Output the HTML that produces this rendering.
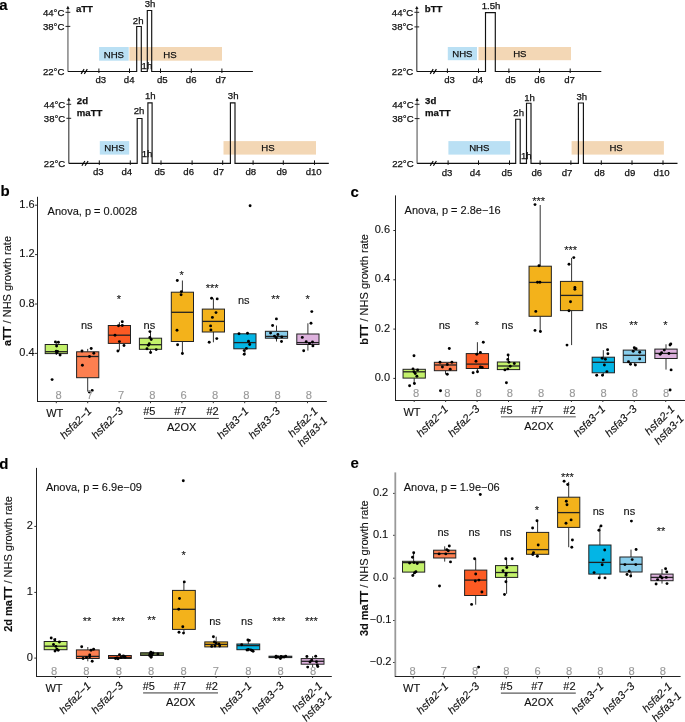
<!DOCTYPE html>
<html><head><meta charset="utf-8"><style>
html,body{margin:0;padding:0;background:#fff;}
svg{display:block;will-change:transform;font-family:"Liberation Sans", sans-serif;}

</style></head><body>
<svg width="685" height="722" viewBox="0 0 685 722">
<rect width="685" height="722" fill="#fff"/>
<rect x="99.10" y="47.00" width="29.60" height="13.70" fill="#BAE0F4" stroke="none" stroke-width="1"/>
<text x="113.90" y="57.80" font-size="9.6" text-anchor="middle" fill="#111" stroke="#111" stroke-width="0.25" >NHS</text>
<rect x="129.40" y="47.00" width="92.60" height="13.70" fill="#F3D7B5" stroke="none" stroke-width="1"/>
<text x="170.00" y="57.80" font-size="9.6" text-anchor="middle" fill="#111" stroke="#111" stroke-width="0.25" >HS</text>
<line x1="67.90" y1="71.50" x2="67.90" y2="8.30" stroke="#999" stroke-width="1.8"/>
<path d="M66.20,8.90 L67.90,5.80 L69.60,8.90 Z" fill="#111"/>
<line x1="65.50" y1="12.30" x2="70.30" y2="12.30" stroke="#222" stroke-width="1"/>
<line x1="65.50" y1="26.40" x2="70.30" y2="26.40" stroke="#222" stroke-width="1"/>
<text x="64.40" y="15.70" font-size="9.6" text-anchor="end" fill="#111" stroke="#111" stroke-width="0.25" >44°C</text>
<text x="64.40" y="29.80" font-size="9.6" text-anchor="end" fill="#111" stroke="#111" stroke-width="0.25" >38°C</text>
<text x="64.40" y="74.90" font-size="9.6" text-anchor="end" fill="#111" stroke="#111" stroke-width="0.25" >22°C</text>
<text x="75.90" y="11.80" font-size="9.6" text-anchor="start" font-weight="bold" fill="#111" stroke="#111" stroke-width="0.25" >aTT</text>
<path d="M67.90,71.50 L136.70,71.50 L136.70,26.50 L141.30,26.50 L141.30,71.50 L147.30,71.50 L147.30,10.50 L151.70,10.50 L151.70,71.50 L252.90,71.50" fill="none" stroke="#111" stroke-width="1.15"/>
<line x1="81.10" y1="73.90" x2="84.10" y2="69.10" stroke="#000" stroke-width="1.1"/>
<line x1="84.30" y1="73.90" x2="87.30" y2="69.10" stroke="#000" stroke-width="1.1"/>
<line x1="98.90" y1="68.50" x2="98.90" y2="73.00" stroke="#111" stroke-width="1.0"/>
<text x="100.80" y="82.70" font-size="9.6" text-anchor="middle" fill="#111" stroke="#111" stroke-width="0.25" >d3</text>
<line x1="129.50" y1="68.50" x2="129.50" y2="73.00" stroke="#111" stroke-width="1.0"/>
<text x="129.20" y="82.70" font-size="9.6" text-anchor="middle" fill="#111" stroke="#111" stroke-width="0.25" >d4</text>
<line x1="160.50" y1="68.50" x2="160.50" y2="73.00" stroke="#111" stroke-width="1.0"/>
<text x="162.30" y="82.70" font-size="9.6" text-anchor="middle" fill="#111" stroke="#111" stroke-width="0.25" >d5</text>
<line x1="191.30" y1="68.50" x2="191.30" y2="73.00" stroke="#111" stroke-width="1.0"/>
<text x="191.20" y="82.70" font-size="9.6" text-anchor="middle" fill="#111" stroke="#111" stroke-width="0.25" >d6</text>
<line x1="221.90" y1="68.50" x2="221.90" y2="73.00" stroke="#111" stroke-width="1.0"/>
<text x="220.80" y="82.70" font-size="9.6" text-anchor="middle" fill="#111" stroke="#111" stroke-width="0.25" >d7</text>
<text x="138.20" y="23.80" font-size="9.6" text-anchor="middle" fill="#111" stroke="#111" stroke-width="0.25" >2h</text>
<text x="150.00" y="6.90" font-size="9.6" text-anchor="middle" fill="#111" stroke="#111" stroke-width="0.25" >3h</text>
<text x="146.90" y="68.80" font-size="9.6" text-anchor="middle" fill="#111" stroke="#111" stroke-width="0.25" >1h</text>
<rect x="447.80" y="47.00" width="29.20" height="13.20" fill="#BAE0F4" stroke="none" stroke-width="1"/>
<text x="462.40" y="56.50" font-size="9.6" text-anchor="middle" fill="#111" stroke="#111" stroke-width="0.25" >NHS</text>
<rect x="478.50" y="47.00" width="92.50" height="13.20" fill="#F3D7B5" stroke="none" stroke-width="1"/>
<text x="519.80" y="56.50" font-size="9.6" text-anchor="middle" fill="#111" stroke="#111" stroke-width="0.25" >HS</text>
<line x1="416.80" y1="71.50" x2="416.80" y2="8.50" stroke="#444" stroke-width="1.2"/>
<path d="M415.10,9.10 L416.80,6.00 L418.50,9.10 Z" fill="#111"/>
<line x1="414.40" y1="12.30" x2="419.20" y2="12.30" stroke="#222" stroke-width="1"/>
<line x1="414.40" y1="26.90" x2="419.20" y2="26.90" stroke="#222" stroke-width="1"/>
<text x="413.30" y="15.70" font-size="9.6" text-anchor="end" fill="#111" stroke="#111" stroke-width="0.25" >44°C</text>
<text x="413.30" y="30.30" font-size="9.6" text-anchor="end" fill="#111" stroke="#111" stroke-width="0.25" >38°C</text>
<text x="413.30" y="74.90" font-size="9.6" text-anchor="end" fill="#111" stroke="#111" stroke-width="0.25" >22°C</text>
<text x="424.80" y="12.00" font-size="9.6" text-anchor="start" font-weight="bold" fill="#111" stroke="#111" stroke-width="0.25" >bTT</text>
<path d="M416.80,71.50 L485.50,71.50 L485.50,12.60 L495.30,12.60 L495.30,71.50 L601.30,71.50" fill="none" stroke="#111" stroke-width="1.15"/>
<line x1="430.20" y1="73.90" x2="433.20" y2="69.10" stroke="#000" stroke-width="1.1"/>
<line x1="433.40" y1="73.90" x2="436.40" y2="69.10" stroke="#000" stroke-width="1.1"/>
<line x1="447.40" y1="68.50" x2="447.40" y2="73.00" stroke="#111" stroke-width="1.0"/>
<text x="449.60" y="82.70" font-size="9.6" text-anchor="middle" fill="#111" stroke="#111" stroke-width="0.25" >d3</text>
<line x1="478.50" y1="68.50" x2="478.50" y2="73.00" stroke="#111" stroke-width="1.0"/>
<text x="477.80" y="82.70" font-size="9.6" text-anchor="middle" fill="#111" stroke="#111" stroke-width="0.25" >d4</text>
<line x1="508.90" y1="68.50" x2="508.90" y2="73.00" stroke="#111" stroke-width="1.0"/>
<text x="510.60" y="82.70" font-size="9.6" text-anchor="middle" fill="#111" stroke="#111" stroke-width="0.25" >d5</text>
<line x1="539.60" y1="68.50" x2="539.60" y2="73.00" stroke="#111" stroke-width="1.0"/>
<text x="539.70" y="82.70" font-size="9.6" text-anchor="middle" fill="#111" stroke="#111" stroke-width="0.25" >d6</text>
<line x1="570.20" y1="68.50" x2="570.20" y2="73.00" stroke="#111" stroke-width="1.0"/>
<text x="569.60" y="82.70" font-size="9.6" text-anchor="middle" fill="#111" stroke="#111" stroke-width="0.25" >d7</text>
<text x="491.00" y="8.80" font-size="9.6" text-anchor="middle" fill="#111" stroke="#111" stroke-width="0.25" >1.5h</text>
<rect x="99.80" y="141.10" width="29.40" height="13.50" fill="#BAE0F4" stroke="none" stroke-width="1"/>
<text x="114.50" y="150.70" font-size="9.6" text-anchor="middle" fill="#111" stroke="#111" stroke-width="0.25" >NHS</text>
<rect x="223.50" y="141.10" width="92.50" height="13.50" fill="#F3D7B5" stroke="none" stroke-width="1"/>
<text x="267.90" y="150.70" font-size="9.6" text-anchor="middle" fill="#111" stroke="#111" stroke-width="0.25" >HS</text>
<line x1="68.80" y1="163.40" x2="68.80" y2="100.10" stroke="#444" stroke-width="1.2"/>
<path d="M67.10,100.70 L68.80,97.60 L70.50,100.70 Z" fill="#111"/>
<line x1="66.40" y1="104.30" x2="71.20" y2="104.30" stroke="#222" stroke-width="1"/>
<line x1="66.40" y1="118.30" x2="71.20" y2="118.30" stroke="#222" stroke-width="1"/>
<text x="65.30" y="107.70" font-size="9.6" text-anchor="end" fill="#111" stroke="#111" stroke-width="0.25" >44°C</text>
<text x="65.30" y="121.70" font-size="9.6" text-anchor="end" fill="#111" stroke="#111" stroke-width="0.25" >38°C</text>
<text x="65.30" y="166.80" font-size="9.6" text-anchor="end" fill="#111" stroke="#111" stroke-width="0.25" >22°C</text>
<text x="76.80" y="103.60" font-size="9.6" text-anchor="start" font-weight="bold" fill="#111" stroke="#111" stroke-width="0.25" >2d</text>
<text x="76.80" y="115.80" font-size="9.6" text-anchor="start" font-weight="bold" fill="#111" stroke="#111" stroke-width="0.25" >maTT</text>
<path d="M68.80,163.40 L137.20,163.40 L137.20,118.50 L142.00,118.50 L142.00,163.40 L147.90,163.40 L147.90,102.90 L152.10,102.90 L152.10,163.40 L230.40,163.40 L230.40,102.80 L235.00,102.80 L235.00,163.40 L328.80,163.40" fill="none" stroke="#111" stroke-width="1.15"/>
<line x1="81.90" y1="165.80" x2="84.90" y2="161.00" stroke="#000" stroke-width="1.1"/>
<line x1="85.10" y1="165.80" x2="88.10" y2="161.00" stroke="#000" stroke-width="1.1"/>
<line x1="99.30" y1="160.40" x2="99.30" y2="164.90" stroke="#111" stroke-width="1.0"/>
<text x="98.30" y="174.90" font-size="9.6" text-anchor="middle" fill="#111" stroke="#111" stroke-width="0.25" >d3</text>
<line x1="130.30" y1="160.40" x2="130.30" y2="164.90" stroke="#111" stroke-width="1.0"/>
<text x="126.80" y="174.90" font-size="9.6" text-anchor="middle" fill="#111" stroke="#111" stroke-width="0.25" >d4</text>
<line x1="161.00" y1="160.40" x2="161.00" y2="164.90" stroke="#111" stroke-width="1.0"/>
<text x="159.80" y="174.90" font-size="9.6" text-anchor="middle" fill="#111" stroke="#111" stroke-width="0.25" >d5</text>
<line x1="192.10" y1="160.40" x2="192.10" y2="164.90" stroke="#111" stroke-width="1.0"/>
<text x="188.70" y="174.90" font-size="9.6" text-anchor="middle" fill="#111" stroke="#111" stroke-width="0.25" >d6</text>
<line x1="222.70" y1="160.40" x2="222.70" y2="164.90" stroke="#111" stroke-width="1.0"/>
<text x="218.70" y="174.90" font-size="9.6" text-anchor="middle" fill="#111" stroke="#111" stroke-width="0.25" >d7</text>
<line x1="253.10" y1="160.40" x2="253.10" y2="164.90" stroke="#111" stroke-width="1.0"/>
<text x="250.80" y="174.90" font-size="9.6" text-anchor="middle" fill="#111" stroke="#111" stroke-width="0.25" >d8</text>
<line x1="283.30" y1="160.40" x2="283.30" y2="164.90" stroke="#111" stroke-width="1.0"/>
<text x="281.80" y="174.90" font-size="9.6" text-anchor="middle" fill="#111" stroke="#111" stroke-width="0.25" >d9</text>
<line x1="314.50" y1="160.40" x2="314.50" y2="164.90" stroke="#111" stroke-width="1.0"/>
<text x="313.70" y="174.90" font-size="9.6" text-anchor="middle" fill="#111" stroke="#111" stroke-width="0.25" >d10</text>
<text x="139.00" y="114.10" font-size="9.6" text-anchor="middle" fill="#111" stroke="#111" stroke-width="0.25" >2h</text>
<text x="150.30" y="99.00" font-size="9.6" text-anchor="middle" fill="#111" stroke="#111" stroke-width="0.25" >1h</text>
<text x="233.20" y="98.60" font-size="9.6" text-anchor="middle" fill="#111" stroke="#111" stroke-width="0.25" >3h</text>
<text x="147.00" y="157.20" font-size="9.6" text-anchor="middle" fill="#111" stroke="#111" stroke-width="0.25" >1h</text>
<rect x="448.40" y="141.10" width="61.80" height="13.50" fill="#BAE0F4" stroke="none" stroke-width="1"/>
<text x="479.30" y="150.70" font-size="9.6" text-anchor="middle" fill="#111" stroke="#111" stroke-width="0.25" >NHS</text>
<rect x="571.60" y="141.10" width="92.30" height="13.50" fill="#F3D7B5" stroke="none" stroke-width="1"/>
<text x="616.10" y="150.70" font-size="9.6" text-anchor="middle" fill="#111" stroke="#111" stroke-width="0.25" >HS</text>
<line x1="417.10" y1="163.40" x2="417.10" y2="100.30" stroke="#999" stroke-width="1.8"/>
<path d="M415.40,100.90 L417.10,97.80 L418.80,100.90 Z" fill="#111"/>
<line x1="414.70" y1="104.30" x2="419.50" y2="104.30" stroke="#222" stroke-width="1"/>
<line x1="414.70" y1="118.60" x2="419.50" y2="118.60" stroke="#222" stroke-width="1"/>
<text x="413.60" y="107.70" font-size="9.6" text-anchor="end" fill="#111" stroke="#111" stroke-width="0.25" >44°C</text>
<text x="413.60" y="122.00" font-size="9.6" text-anchor="end" fill="#111" stroke="#111" stroke-width="0.25" >38°C</text>
<text x="413.60" y="166.80" font-size="9.6" text-anchor="end" fill="#111" stroke="#111" stroke-width="0.25" >22°C</text>
<text x="425.10" y="103.80" font-size="9.6" text-anchor="start" font-weight="bold" fill="#111" stroke="#111" stroke-width="0.25" >3d</text>
<text x="425.10" y="116.00" font-size="9.6" text-anchor="start" font-weight="bold" fill="#111" stroke="#111" stroke-width="0.25" >maTT</text>
<path d="M417.10,163.40 L515.70,163.40 L515.70,119.20 L520.20,119.20 L520.20,163.40 L526.50,163.40 L526.50,103.20 L531.00,103.20 L531.00,163.40 L578.40,163.40 L578.40,103.00 L583.40,103.00 L583.40,163.40 L677.50,163.40" fill="none" stroke="#111" stroke-width="1.15"/>
<line x1="430.20" y1="165.80" x2="433.20" y2="161.00" stroke="#000" stroke-width="1.1"/>
<line x1="433.40" y1="165.80" x2="436.40" y2="161.00" stroke="#000" stroke-width="1.1"/>
<line x1="448.10" y1="160.40" x2="448.10" y2="164.90" stroke="#111" stroke-width="1.0"/>
<text x="447.00" y="176.00" font-size="9.6" text-anchor="middle" fill="#111" stroke="#111" stroke-width="0.25" >d3</text>
<line x1="478.50" y1="160.40" x2="478.50" y2="164.90" stroke="#111" stroke-width="1.0"/>
<text x="475.20" y="176.00" font-size="9.6" text-anchor="middle" fill="#111" stroke="#111" stroke-width="0.25" >d4</text>
<line x1="509.50" y1="160.40" x2="509.50" y2="164.90" stroke="#111" stroke-width="1.0"/>
<text x="506.90" y="176.00" font-size="9.6" text-anchor="middle" fill="#111" stroke="#111" stroke-width="0.25" >d5</text>
<line x1="540.10" y1="160.40" x2="540.10" y2="164.90" stroke="#111" stroke-width="1.0"/>
<text x="536.80" y="176.00" font-size="9.6" text-anchor="middle" fill="#111" stroke="#111" stroke-width="0.25" >d6</text>
<line x1="570.90" y1="160.40" x2="570.90" y2="164.90" stroke="#111" stroke-width="1.0"/>
<text x="567.00" y="176.00" font-size="9.6" text-anchor="middle" fill="#111" stroke="#111" stroke-width="0.25" >d7</text>
<line x1="601.30" y1="160.40" x2="601.30" y2="164.90" stroke="#111" stroke-width="1.0"/>
<text x="599.60" y="176.00" font-size="9.6" text-anchor="middle" fill="#111" stroke="#111" stroke-width="0.25" >d8</text>
<line x1="632.00" y1="160.40" x2="632.00" y2="164.90" stroke="#111" stroke-width="1.0"/>
<text x="629.90" y="176.00" font-size="9.6" text-anchor="middle" fill="#111" stroke="#111" stroke-width="0.25" >d9</text>
<line x1="663.00" y1="160.40" x2="663.00" y2="164.90" stroke="#111" stroke-width="1.0"/>
<text x="661.60" y="176.00" font-size="9.6" text-anchor="middle" fill="#111" stroke="#111" stroke-width="0.25" >d10</text>
<text x="518.70" y="115.90" font-size="9.6" text-anchor="middle" fill="#111" stroke="#111" stroke-width="0.25" >2h</text>
<text x="529.50" y="100.50" font-size="9.6" text-anchor="middle" fill="#111" stroke="#111" stroke-width="0.25" >1h</text>
<text x="581.80" y="100.20" font-size="9.6" text-anchor="middle" fill="#111" stroke="#111" stroke-width="0.25" >3h</text>
<text x="526.30" y="159.40" font-size="9.6" text-anchor="middle" fill="#111" stroke="#111" stroke-width="0.25" >1h</text>
<text x="-0.80" y="10.40" font-size="15" text-anchor="start" font-weight="bold" fill="#000" stroke="#000" stroke-width="0.12" >a</text>
<text x="0.50" y="195.50" font-size="15" text-anchor="start" font-weight="bold" fill="#000" stroke="#000" stroke-width="0.12" >b</text>
<text transform="translate(11.10,291.00) rotate(-90)" font-size="11" text-anchor="middle" fill="#111" stroke="#111" stroke-width="0.12"><tspan font-weight="bold">aTT</tspan> / NHS growth rate</text>
<line x1="35.00" y1="205.20" x2="37.20" y2="205.20" stroke="#333" stroke-width="1"/>
<text x="34.60" y="207.70" font-size="11" text-anchor="end" fill="#111" stroke="#111" stroke-width="0.12" >1.6</text>
<line x1="35.00" y1="254.60" x2="37.20" y2="254.60" stroke="#333" stroke-width="1"/>
<text x="34.60" y="257.10" font-size="11" text-anchor="end" fill="#111" stroke="#111" stroke-width="0.12" >1.2</text>
<line x1="35.00" y1="304.00" x2="37.20" y2="304.00" stroke="#333" stroke-width="1"/>
<text x="34.60" y="306.50" font-size="11" text-anchor="end" fill="#111" stroke="#111" stroke-width="0.12" >0.8</text>
<line x1="35.00" y1="353.40" x2="37.20" y2="353.40" stroke="#333" stroke-width="1"/>
<text x="34.60" y="355.90" font-size="11" text-anchor="end" fill="#111" stroke="#111" stroke-width="0.12" >0.4</text>
<text x="47.60" y="215.00" font-size="11" text-anchor="start" fill="#111" stroke="#111" stroke-width="0.12" >Anova, p = 0.0028</text>
<line x1="56.30" y1="341.90" x2="56.30" y2="344.50" stroke="#333" stroke-width="1"/>
<line x1="56.30" y1="353.60" x2="56.30" y2="355.00" stroke="#333" stroke-width="1"/>
<rect x="45.20" y="344.50" width="22.20" height="9.10" fill="#C3F16B" stroke="#222" stroke-width="1"/>
<line x1="45.20" y1="351.70" x2="67.40" y2="351.70" stroke="#222" stroke-width="1.3"/>
<line x1="87.70" y1="348.90" x2="87.70" y2="351.80" stroke="#333" stroke-width="1"/>
<line x1="87.70" y1="377.70" x2="87.70" y2="391.50" stroke="#333" stroke-width="1"/>
<rect x="76.60" y="351.80" width="22.20" height="25.90" fill="#FD7F50" stroke="#222" stroke-width="1"/>
<line x1="76.60" y1="356.50" x2="98.80" y2="356.50" stroke="#222" stroke-width="1.3"/>
<line x1="119.40" y1="322.20" x2="119.40" y2="325.50" stroke="#333" stroke-width="1"/>
<line x1="119.40" y1="343.40" x2="119.40" y2="350.50" stroke="#333" stroke-width="1"/>
<rect x="108.30" y="325.50" width="22.20" height="17.90" fill="#FC5A23" stroke="#222" stroke-width="1"/>
<line x1="108.30" y1="335.20" x2="130.50" y2="335.20" stroke="#222" stroke-width="1.3"/>
<line x1="150.50" y1="331.30" x2="150.50" y2="338.20" stroke="#333" stroke-width="1"/>
<line x1="150.50" y1="349.30" x2="150.50" y2="352.50" stroke="#333" stroke-width="1"/>
<rect x="139.40" y="338.20" width="22.20" height="11.10" fill="#C3F16B" stroke="#222" stroke-width="1"/>
<line x1="139.40" y1="344.70" x2="161.60" y2="344.70" stroke="#222" stroke-width="1.3"/>
<line x1="182.40" y1="280.50" x2="182.40" y2="292.20" stroke="#333" stroke-width="1"/>
<line x1="182.40" y1="341.50" x2="182.40" y2="353.50" stroke="#333" stroke-width="1"/>
<rect x="171.30" y="292.20" width="22.20" height="49.30" fill="#F3B21B" stroke="#222" stroke-width="1"/>
<line x1="171.30" y1="312.30" x2="193.50" y2="312.30" stroke="#222" stroke-width="1.3"/>
<line x1="213.40" y1="298.50" x2="213.40" y2="309.10" stroke="#333" stroke-width="1"/>
<line x1="213.40" y1="332.00" x2="213.40" y2="342.30" stroke="#333" stroke-width="1"/>
<rect x="202.30" y="309.10" width="22.20" height="22.90" fill="#F3B21B" stroke="#222" stroke-width="1"/>
<line x1="202.30" y1="321.40" x2="224.50" y2="321.40" stroke="#222" stroke-width="1.3"/>
<line x1="244.90" y1="333.80" x2="244.90" y2="333.80" stroke="#333" stroke-width="1"/>
<line x1="244.90" y1="348.80" x2="244.90" y2="354.20" stroke="#333" stroke-width="1"/>
<rect x="233.80" y="333.80" width="22.20" height="15.00" fill="#03B5E5" stroke="#222" stroke-width="1"/>
<line x1="233.80" y1="342.60" x2="256.00" y2="342.60" stroke="#222" stroke-width="1.3"/>
<line x1="276.50" y1="325.50" x2="276.50" y2="331.30" stroke="#333" stroke-width="1"/>
<line x1="276.50" y1="338.20" x2="276.50" y2="341.50" stroke="#333" stroke-width="1"/>
<rect x="265.40" y="331.30" width="22.20" height="6.90" fill="#88CDEB" stroke="#222" stroke-width="1"/>
<line x1="265.40" y1="336.40" x2="287.60" y2="336.40" stroke="#222" stroke-width="1.3"/>
<line x1="307.90" y1="323.30" x2="307.90" y2="334.00" stroke="#333" stroke-width="1"/>
<line x1="307.90" y1="344.50" x2="307.90" y2="350.60" stroke="#333" stroke-width="1"/>
<rect x="296.80" y="334.00" width="22.20" height="10.50" fill="#DEB2DE" stroke="#222" stroke-width="1"/>
<line x1="296.80" y1="342.60" x2="319.00" y2="342.60" stroke="#222" stroke-width="1.3"/>
<circle cx="55.40" cy="341.90" r="1.45" fill="#000"/>
<circle cx="58.40" cy="342.20" r="1.45" fill="#000"/>
<circle cx="56.60" cy="346.00" r="1.45" fill="#000"/>
<circle cx="56.20" cy="351.10" r="1.45" fill="#000"/>
<circle cx="57.60" cy="351.40" r="1.45" fill="#000"/>
<circle cx="56.60" cy="352.80" r="1.45" fill="#000"/>
<circle cx="60.10" cy="355.00" r="1.45" fill="#000"/>
<circle cx="52.10" cy="379.60" r="1.45" fill="#000"/>
<circle cx="82.00" cy="351.00" r="1.45" fill="#000"/>
<circle cx="91.20" cy="348.50" r="1.45" fill="#000"/>
<circle cx="93.80" cy="353.30" r="1.45" fill="#000"/>
<circle cx="89.50" cy="356.50" r="1.45" fill="#000"/>
<circle cx="82.40" cy="365.30" r="1.45" fill="#000"/>
<circle cx="89.30" cy="392.00" r="1.45" fill="#000"/>
<circle cx="92.20" cy="390.40" r="1.45" fill="#000"/>
<circle cx="122.30" cy="321.80" r="1.45" fill="#000"/>
<circle cx="118.50" cy="325.80" r="1.45" fill="#000"/>
<circle cx="122.30" cy="325.50" r="1.45" fill="#000"/>
<circle cx="115.00" cy="335.30" r="1.45" fill="#000"/>
<circle cx="119.40" cy="341.60" r="1.45" fill="#000"/>
<circle cx="124.00" cy="345.50" r="1.45" fill="#000"/>
<circle cx="117.90" cy="351.00" r="1.45" fill="#000"/>
<circle cx="149.90" cy="331.60" r="1.45" fill="#000"/>
<circle cx="149.90" cy="337.40" r="1.45" fill="#000"/>
<circle cx="149.30" cy="343.70" r="1.45" fill="#000"/>
<circle cx="148.40" cy="345.20" r="1.45" fill="#000"/>
<circle cx="147.00" cy="348.80" r="1.45" fill="#000"/>
<circle cx="156.20" cy="349.60" r="1.45" fill="#000"/>
<circle cx="150.60" cy="352.50" r="1.45" fill="#000"/>
<circle cx="151.20" cy="339.50" r="1.45" fill="#000"/>
<circle cx="177.30" cy="280.50" r="1.45" fill="#000"/>
<circle cx="181.40" cy="291.60" r="1.45" fill="#000"/>
<circle cx="181.10" cy="294.80" r="1.45" fill="#000"/>
<circle cx="177.00" cy="330.30" r="1.45" fill="#000"/>
<circle cx="177.60" cy="344.70" r="1.45" fill="#000"/>
<circle cx="182.40" cy="353.50" r="1.45" fill="#000"/>
<circle cx="211.60" cy="298.20" r="1.45" fill="#000"/>
<circle cx="217.20" cy="298.90" r="1.45" fill="#000"/>
<circle cx="216.00" cy="312.60" r="1.45" fill="#000"/>
<circle cx="212.40" cy="317.40" r="1.45" fill="#000"/>
<circle cx="210.60" cy="325.90" r="1.45" fill="#000"/>
<circle cx="210.90" cy="329.90" r="1.45" fill="#000"/>
<circle cx="216.80" cy="338.60" r="1.45" fill="#000"/>
<circle cx="209.20" cy="342.30" r="1.45" fill="#000"/>
<circle cx="239.00" cy="333.80" r="1.45" fill="#000"/>
<circle cx="247.50" cy="333.20" r="1.45" fill="#000"/>
<circle cx="248.50" cy="341.20" r="1.45" fill="#000"/>
<circle cx="249.70" cy="344.50" r="1.45" fill="#000"/>
<circle cx="246.40" cy="348.40" r="1.45" fill="#000"/>
<circle cx="244.20" cy="350.60" r="1.45" fill="#000"/>
<circle cx="244.20" cy="354.20" r="1.45" fill="#000"/>
<circle cx="250.10" cy="205.70" r="1.45" fill="#000"/>
<circle cx="276.40" cy="318.90" r="1.45" fill="#000"/>
<circle cx="272.60" cy="325.50" r="1.45" fill="#000"/>
<circle cx="270.60" cy="333.10" r="1.45" fill="#000"/>
<circle cx="277.90" cy="334.50" r="1.45" fill="#000"/>
<circle cx="281.80" cy="336.90" r="1.45" fill="#000"/>
<circle cx="276.40" cy="337.90" r="1.45" fill="#000"/>
<circle cx="281.50" cy="341.50" r="1.45" fill="#000"/>
<circle cx="274.50" cy="336.20" r="1.45" fill="#000"/>
<circle cx="311.80" cy="311.60" r="1.45" fill="#000"/>
<circle cx="311.00" cy="323.30" r="1.45" fill="#000"/>
<circle cx="302.30" cy="337.40" r="1.45" fill="#000"/>
<circle cx="306.20" cy="341.80" r="1.45" fill="#000"/>
<circle cx="312.50" cy="342.00" r="1.45" fill="#000"/>
<circle cx="312.90" cy="345.90" r="1.45" fill="#000"/>
<circle cx="303.70" cy="350.70" r="1.45" fill="#000"/>
<circle cx="309.50" cy="343.50" r="1.45" fill="#000"/>
<text x="86.80" y="328.90" font-size="11" text-anchor="middle" fill="#111" stroke="#111" stroke-width="0.12" >ns</text>
<text x="118.90" y="303.42" font-size="11" text-anchor="middle" fill="#111" stroke="#111" stroke-width="0.12" >*</text>
<text x="149.40" y="328.70" font-size="11" text-anchor="middle" fill="#111" stroke="#111" stroke-width="0.12" >ns</text>
<text x="181.70" y="278.62" font-size="11" text-anchor="middle" fill="#111" stroke="#111" stroke-width="0.12" >*</text>
<text x="212.10" y="291.52" font-size="11" text-anchor="middle" fill="#111" stroke="#111" stroke-width="0.12" >***</text>
<text x="243.80" y="304.30" font-size="11" text-anchor="middle" fill="#111" stroke="#111" stroke-width="0.12" >ns</text>
<text x="275.60" y="303.42" font-size="11" text-anchor="middle" fill="#111" stroke="#111" stroke-width="0.12" >**</text>
<text x="307.70" y="303.42" font-size="11" text-anchor="middle" fill="#111" stroke="#111" stroke-width="0.12" >*</text>
<text x="58.50" y="398.80" font-size="11.2" text-anchor="middle" fill="#999" stroke="#999" stroke-width="0.12" >8</text>
<text x="89.81" y="398.80" font-size="11.2" text-anchor="middle" fill="#999" stroke="#999" stroke-width="0.12" >7</text>
<text x="121.12" y="398.80" font-size="11.2" text-anchor="middle" fill="#999" stroke="#999" stroke-width="0.12" >7</text>
<text x="152.43" y="398.80" font-size="11.2" text-anchor="middle" fill="#999" stroke="#999" stroke-width="0.12" >8</text>
<text x="183.74" y="398.80" font-size="11.2" text-anchor="middle" fill="#999" stroke="#999" stroke-width="0.12" >6</text>
<text x="215.05" y="398.80" font-size="11.2" text-anchor="middle" fill="#999" stroke="#999" stroke-width="0.12" >8</text>
<text x="246.36" y="398.80" font-size="11.2" text-anchor="middle" fill="#999" stroke="#999" stroke-width="0.12" >8</text>
<text x="277.67" y="398.80" font-size="11.2" text-anchor="middle" fill="#999" stroke="#999" stroke-width="0.12" >8</text>
<text x="308.98" y="398.80" font-size="11.2" text-anchor="middle" fill="#999" stroke="#999" stroke-width="0.12" >8</text>
<line x1="37.50" y1="196.80" x2="37.50" y2="402.00" stroke="#222" stroke-width="1"/>
<line x1="37.00" y1="401.50" x2="326.80" y2="401.50" stroke="#222" stroke-width="1"/>
<line x1="56.30" y1="401.20" x2="56.30" y2="403.20" stroke="#333" stroke-width="1"/>
<text x="54.75" y="417.00" font-size="11" text-anchor="middle" fill="#111" stroke="#111" stroke-width="0.12" >WT</text>
<line x1="87.70" y1="401.20" x2="87.70" y2="403.20" stroke="#333" stroke-width="1"/>
<text transform="translate(86.90,406.20) rotate(-45)" font-size="11" font-style="italic" text-anchor="end" fill="#111" stroke="#111" stroke-width="0.12" y="7.80">hsfa2−1</text>
<line x1="119.10" y1="401.20" x2="119.10" y2="403.20" stroke="#333" stroke-width="1"/>
<text transform="translate(118.30,406.20) rotate(-45)" font-size="11" font-style="italic" text-anchor="end" fill="#111" stroke="#111" stroke-width="0.12" y="7.80">hsfa2−3</text>
<line x1="150.50" y1="401.20" x2="150.50" y2="403.20" stroke="#333" stroke-width="1"/>
<text x="149.35" y="415.10" font-size="11" text-anchor="middle" fill="#111" stroke="#111" stroke-width="0.12" >#5</text>
<line x1="181.90" y1="401.20" x2="181.90" y2="403.20" stroke="#333" stroke-width="1"/>
<text x="180.35" y="415.10" font-size="11" text-anchor="middle" fill="#111" stroke="#111" stroke-width="0.12" >#7</text>
<line x1="213.30" y1="401.20" x2="213.30" y2="403.20" stroke="#333" stroke-width="1"/>
<text x="212.60" y="415.10" font-size="11" text-anchor="middle" fill="#111" stroke="#111" stroke-width="0.12" >#2</text>
<line x1="244.70" y1="401.20" x2="244.70" y2="403.20" stroke="#333" stroke-width="1"/>
<text transform="translate(243.90,406.20) rotate(-45)" font-size="11" font-style="italic" text-anchor="end" fill="#111" stroke="#111" stroke-width="0.12" y="7.80">hsfa3−1</text>
<line x1="276.10" y1="401.20" x2="276.10" y2="403.20" stroke="#333" stroke-width="1"/>
<text transform="translate(275.30,406.20) rotate(-45)" font-size="11" font-style="italic" text-anchor="end" fill="#111" stroke="#111" stroke-width="0.12" y="7.80">hsfa3−3</text>
<line x1="307.50" y1="401.20" x2="307.50" y2="403.20" stroke="#333" stroke-width="1"/>
<text transform="translate(313.00,406.20) rotate(-45)" font-size="11" font-style="italic" text-anchor="end" fill="#111" stroke="#111" stroke-width="0.12" y="7.80">hsfa2-1</text>
<text transform="translate(313.00,406.20) rotate(-45)" font-size="11" font-style="italic" text-anchor="end" fill="#111" stroke="#111" stroke-width="0.12" y="21.20">hsfa3-1</text>
<line x1="144.00" y1="418.40" x2="218.90" y2="418.40" stroke="#333" stroke-width="1.0"/>
<text x="181.70" y="431.00" font-size="11" text-anchor="middle" fill="#111" stroke="#111" stroke-width="0.12" >A2OX</text>
<text x="350.50" y="196.60" font-size="15" text-anchor="start" font-weight="bold" fill="#000" stroke="#000" stroke-width="0.12" >c</text>
<text transform="translate(367.50,289.40) rotate(-90)" font-size="11" text-anchor="middle" fill="#111" stroke="#111" stroke-width="0.12"><tspan font-weight="bold">bTT</tspan> / NHS growth rate</text>
<line x1="393.30" y1="230.50" x2="395.50" y2="230.50" stroke="#333" stroke-width="1"/>
<text x="390.00" y="233.00" font-size="11" text-anchor="end" fill="#111" stroke="#111" stroke-width="0.12" >0.6</text>
<line x1="393.30" y1="279.80" x2="395.50" y2="279.80" stroke="#333" stroke-width="1"/>
<text x="390.00" y="282.30" font-size="11" text-anchor="end" fill="#111" stroke="#111" stroke-width="0.12" >0.4</text>
<line x1="393.30" y1="329.10" x2="395.50" y2="329.10" stroke="#333" stroke-width="1"/>
<text x="390.00" y="331.60" font-size="11" text-anchor="end" fill="#111" stroke="#111" stroke-width="0.12" >0.2</text>
<line x1="393.30" y1="378.40" x2="395.50" y2="378.40" stroke="#333" stroke-width="1"/>
<text x="390.00" y="380.90" font-size="11" text-anchor="end" fill="#111" stroke="#111" stroke-width="0.12" >0.0</text>
<text x="404.60" y="214.20" font-size="11" text-anchor="start" fill="#111" stroke="#111" stroke-width="0.12" >Anova, p = 2.8e−16</text>
<line x1="414.20" y1="369.30" x2="414.20" y2="369.30" stroke="#333" stroke-width="1"/>
<line x1="414.20" y1="378.10" x2="414.20" y2="383.80" stroke="#333" stroke-width="1"/>
<rect x="403.05" y="369.30" width="22.30" height="8.80" fill="#C3F16B" stroke="#222" stroke-width="1"/>
<line x1="403.05" y1="371.80" x2="425.35" y2="371.80" stroke="#222" stroke-width="1.3"/>
<line x1="445.50" y1="362.30" x2="445.50" y2="362.30" stroke="#333" stroke-width="1"/>
<line x1="445.50" y1="370.70" x2="445.50" y2="374.30" stroke="#333" stroke-width="1"/>
<rect x="434.35" y="362.30" width="22.30" height="8.40" fill="#FD7F50" stroke="#222" stroke-width="1"/>
<line x1="434.35" y1="365.00" x2="456.65" y2="365.00" stroke="#222" stroke-width="1.3"/>
<line x1="477.40" y1="342.20" x2="477.40" y2="353.60" stroke="#333" stroke-width="1"/>
<line x1="477.40" y1="368.50" x2="477.40" y2="372.80" stroke="#333" stroke-width="1"/>
<rect x="466.25" y="353.60" width="22.30" height="14.90" fill="#FC5A23" stroke="#222" stroke-width="1"/>
<line x1="466.25" y1="364.10" x2="488.55" y2="364.10" stroke="#222" stroke-width="1.3"/>
<line x1="508.50" y1="355.00" x2="508.50" y2="362.00" stroke="#333" stroke-width="1"/>
<line x1="508.50" y1="369.60" x2="508.50" y2="369.90" stroke="#333" stroke-width="1"/>
<rect x="497.35" y="362.00" width="22.30" height="7.60" fill="#C3F16B" stroke="#222" stroke-width="1"/>
<line x1="497.35" y1="366.00" x2="519.65" y2="366.00" stroke="#222" stroke-width="1.3"/>
<line x1="540.20" y1="205.00" x2="540.20" y2="266.20" stroke="#333" stroke-width="1"/>
<line x1="540.20" y1="316.30" x2="540.20" y2="331.50" stroke="#333" stroke-width="1"/>
<rect x="529.05" y="266.20" width="22.30" height="50.10" fill="#F3B21B" stroke="#222" stroke-width="1"/>
<line x1="529.05" y1="282.40" x2="551.35" y2="282.40" stroke="#222" stroke-width="1.3"/>
<line x1="571.60" y1="257.90" x2="571.60" y2="281.40" stroke="#333" stroke-width="1"/>
<line x1="571.60" y1="310.60" x2="571.60" y2="345.10" stroke="#333" stroke-width="1"/>
<rect x="560.45" y="281.40" width="22.30" height="29.20" fill="#F3B21B" stroke="#222" stroke-width="1"/>
<line x1="560.45" y1="295.40" x2="582.75" y2="295.40" stroke="#222" stroke-width="1.3"/>
<line x1="603.30" y1="350.10" x2="603.30" y2="357.20" stroke="#333" stroke-width="1"/>
<line x1="603.30" y1="372.80" x2="603.30" y2="375.30" stroke="#333" stroke-width="1"/>
<rect x="592.15" y="357.20" width="22.30" height="15.60" fill="#03B5E5" stroke="#222" stroke-width="1"/>
<line x1="592.15" y1="362.30" x2="614.45" y2="362.30" stroke="#222" stroke-width="1.3"/>
<line x1="634.40" y1="347.70" x2="634.40" y2="350.10" stroke="#333" stroke-width="1"/>
<line x1="634.40" y1="362.60" x2="634.40" y2="365.00" stroke="#333" stroke-width="1"/>
<rect x="623.25" y="350.10" width="22.30" height="12.50" fill="#88CDEB" stroke="#222" stroke-width="1"/>
<line x1="623.25" y1="355.30" x2="645.55" y2="355.30" stroke="#222" stroke-width="1.3"/>
<line x1="666.00" y1="344.30" x2="666.00" y2="349.10" stroke="#333" stroke-width="1"/>
<line x1="666.00" y1="358.50" x2="666.00" y2="369.60" stroke="#333" stroke-width="1"/>
<rect x="654.85" y="349.10" width="22.30" height="9.40" fill="#DEB2DE" stroke="#222" stroke-width="1"/>
<line x1="654.85" y1="353.40" x2="677.15" y2="353.40" stroke="#222" stroke-width="1.3"/>
<circle cx="414.00" cy="355.80" r="1.45" fill="#000"/>
<circle cx="413.00" cy="368.90" r="1.45" fill="#000"/>
<circle cx="417.60" cy="369.90" r="1.45" fill="#000"/>
<circle cx="414.00" cy="371.80" r="1.45" fill="#000"/>
<circle cx="416.90" cy="376.20" r="1.45" fill="#000"/>
<circle cx="414.40" cy="383.50" r="1.45" fill="#000"/>
<circle cx="409.60" cy="385.70" r="1.45" fill="#000"/>
<circle cx="415.20" cy="373.50" r="1.45" fill="#000"/>
<circle cx="449.30" cy="348.50" r="1.45" fill="#000"/>
<circle cx="440.00" cy="362.30" r="1.45" fill="#000"/>
<circle cx="451.90" cy="362.30" r="1.45" fill="#000"/>
<circle cx="447.30" cy="364.50" r="1.45" fill="#000"/>
<circle cx="442.40" cy="367.00" r="1.45" fill="#000"/>
<circle cx="450.20" cy="369.30" r="1.45" fill="#000"/>
<circle cx="447.30" cy="374.30" r="1.45" fill="#000"/>
<circle cx="440.50" cy="390.80" r="1.45" fill="#000"/>
<circle cx="483.30" cy="342.20" r="1.45" fill="#000"/>
<circle cx="480.40" cy="352.40" r="1.45" fill="#000"/>
<circle cx="476.80" cy="354.30" r="1.45" fill="#000"/>
<circle cx="476.00" cy="361.20" r="1.45" fill="#000"/>
<circle cx="480.40" cy="367.00" r="1.45" fill="#000"/>
<circle cx="482.20" cy="367.40" r="1.45" fill="#000"/>
<circle cx="477.50" cy="371.80" r="1.45" fill="#000"/>
<circle cx="473.10" cy="372.80" r="1.45" fill="#000"/>
<circle cx="508.10" cy="355.00" r="1.45" fill="#000"/>
<circle cx="507.80" cy="359.40" r="1.45" fill="#000"/>
<circle cx="508.90" cy="362.30" r="1.45" fill="#000"/>
<circle cx="514.30" cy="363.50" r="1.45" fill="#000"/>
<circle cx="507.80" cy="368.90" r="1.45" fill="#000"/>
<circle cx="504.90" cy="369.90" r="1.45" fill="#000"/>
<circle cx="506.40" cy="382.80" r="1.45" fill="#000"/>
<circle cx="510.20" cy="366.20" r="1.45" fill="#000"/>
<circle cx="535.00" cy="204.60" r="1.45" fill="#000"/>
<circle cx="539.00" cy="265.80" r="1.45" fill="#000"/>
<circle cx="537.50" cy="282.20" r="1.45" fill="#000"/>
<circle cx="539.90" cy="282.20" r="1.45" fill="#000"/>
<circle cx="535.80" cy="311.40" r="1.45" fill="#000"/>
<circle cx="535.00" cy="330.40" r="1.45" fill="#000"/>
<circle cx="540.40" cy="331.50" r="1.45" fill="#000"/>
<circle cx="573.80" cy="257.60" r="1.45" fill="#000"/>
<circle cx="569.00" cy="264.20" r="1.45" fill="#000"/>
<circle cx="574.90" cy="287.40" r="1.45" fill="#000"/>
<circle cx="574.90" cy="289.20" r="1.45" fill="#000"/>
<circle cx="570.50" cy="301.80" r="1.45" fill="#000"/>
<circle cx="569.00" cy="310.80" r="1.45" fill="#000"/>
<circle cx="567.00" cy="345.10" r="1.45" fill="#000"/>
<circle cx="607.60" cy="349.70" r="1.45" fill="#000"/>
<circle cx="607.90" cy="353.80" r="1.45" fill="#000"/>
<circle cx="602.20" cy="358.20" r="1.45" fill="#000"/>
<circle cx="605.40" cy="359.30" r="1.45" fill="#000"/>
<circle cx="604.40" cy="365.00" r="1.45" fill="#000"/>
<circle cx="606.90" cy="371.60" r="1.45" fill="#000"/>
<circle cx="596.70" cy="375.30" r="1.45" fill="#000"/>
<circle cx="602.50" cy="375.30" r="1.45" fill="#000"/>
<circle cx="634.30" cy="347.70" r="1.45" fill="#000"/>
<circle cx="636.10" cy="348.70" r="1.45" fill="#000"/>
<circle cx="633.20" cy="351.30" r="1.45" fill="#000"/>
<circle cx="639.70" cy="352.30" r="1.45" fill="#000"/>
<circle cx="639.70" cy="358.90" r="1.45" fill="#000"/>
<circle cx="628.50" cy="361.80" r="1.45" fill="#000"/>
<circle cx="630.50" cy="364.30" r="1.45" fill="#000"/>
<circle cx="635.40" cy="365.00" r="1.45" fill="#000"/>
<circle cx="670.00" cy="345.00" r="1.45" fill="#000"/>
<circle cx="670.80" cy="343.90" r="1.45" fill="#000"/>
<circle cx="664.30" cy="350.10" r="1.45" fill="#000"/>
<circle cx="661.60" cy="352.80" r="1.45" fill="#000"/>
<circle cx="660.20" cy="354.20" r="1.45" fill="#000"/>
<circle cx="668.90" cy="353.50" r="1.45" fill="#000"/>
<circle cx="671.10" cy="369.90" r="1.45" fill="#000"/>
<circle cx="670.10" cy="390.00" r="1.45" fill="#000"/>
<text x="444.50" y="329.10" font-size="11" text-anchor="middle" fill="#111" stroke="#111" stroke-width="0.12" >ns</text>
<text x="476.80" y="328.62" font-size="11" text-anchor="middle" fill="#111" stroke="#111" stroke-width="0.12" >*</text>
<text x="507.40" y="329.00" font-size="11" text-anchor="middle" fill="#111" stroke="#111" stroke-width="0.12" >ns</text>
<text x="538.70" y="204.92" font-size="11" text-anchor="middle" fill="#111" stroke="#111" stroke-width="0.12" >***</text>
<text x="570.60" y="254.42" font-size="11" text-anchor="middle" fill="#111" stroke="#111" stroke-width="0.12" >***</text>
<text x="601.60" y="329.30" font-size="11" text-anchor="middle" fill="#111" stroke="#111" stroke-width="0.12" >ns</text>
<text x="633.50" y="329.02" font-size="11" text-anchor="middle" fill="#111" stroke="#111" stroke-width="0.12" >**</text>
<text x="665.30" y="328.72" font-size="11" text-anchor="middle" fill="#111" stroke="#111" stroke-width="0.12" >*</text>
<text x="416.00" y="397.40" font-size="11.2" text-anchor="middle" fill="#999" stroke="#999" stroke-width="0.12" >8</text>
<text x="447.25" y="397.40" font-size="11.2" text-anchor="middle" fill="#999" stroke="#999" stroke-width="0.12" >8</text>
<text x="478.50" y="397.40" font-size="11.2" text-anchor="middle" fill="#999" stroke="#999" stroke-width="0.12" >8</text>
<text x="509.75" y="397.40" font-size="11.2" text-anchor="middle" fill="#999" stroke="#999" stroke-width="0.12" >8</text>
<text x="541.00" y="397.40" font-size="11.2" text-anchor="middle" fill="#999" stroke="#999" stroke-width="0.12" >8</text>
<text x="572.25" y="397.40" font-size="11.2" text-anchor="middle" fill="#999" stroke="#999" stroke-width="0.12" >8</text>
<text x="603.50" y="397.40" font-size="11.2" text-anchor="middle" fill="#999" stroke="#999" stroke-width="0.12" >8</text>
<text x="634.75" y="397.40" font-size="11.2" text-anchor="middle" fill="#999" stroke="#999" stroke-width="0.12" >8</text>
<text x="666.00" y="397.40" font-size="11.2" text-anchor="middle" fill="#999" stroke="#999" stroke-width="0.12" >8</text>
<line x1="395.50" y1="195.40" x2="395.50" y2="401.00" stroke="#222" stroke-width="1"/>
<line x1="395.00" y1="400.50" x2="685.00" y2="400.50" stroke="#222" stroke-width="1"/>
<line x1="414.20" y1="400.00" x2="414.20" y2="402.00" stroke="#333" stroke-width="1"/>
<text x="411.95" y="415.80" font-size="11" text-anchor="middle" fill="#111" stroke="#111" stroke-width="0.12" >WT</text>
<line x1="445.64" y1="400.00" x2="445.64" y2="402.00" stroke="#333" stroke-width="1"/>
<text transform="translate(443.34,404.20) rotate(-45)" font-size="11" font-style="italic" text-anchor="end" fill="#111" stroke="#111" stroke-width="0.12" y="7.80">hsfa2−1</text>
<line x1="477.08" y1="400.00" x2="477.08" y2="402.00" stroke="#333" stroke-width="1"/>
<text transform="translate(474.78,404.20) rotate(-45)" font-size="11" font-style="italic" text-anchor="end" fill="#111" stroke="#111" stroke-width="0.12" y="7.80">hsfa2−3</text>
<line x1="508.52" y1="400.00" x2="508.52" y2="402.00" stroke="#333" stroke-width="1"/>
<text x="506.40" y="413.80" font-size="11" text-anchor="middle" fill="#111" stroke="#111" stroke-width="0.12" >#5</text>
<line x1="539.96" y1="400.00" x2="539.96" y2="402.00" stroke="#333" stroke-width="1"/>
<text x="537.25" y="413.80" font-size="11" text-anchor="middle" fill="#111" stroke="#111" stroke-width="0.12" >#7</text>
<line x1="571.40" y1="400.00" x2="571.40" y2="402.00" stroke="#333" stroke-width="1"/>
<text x="569.40" y="413.80" font-size="11" text-anchor="middle" fill="#111" stroke="#111" stroke-width="0.12" >#2</text>
<line x1="602.84" y1="400.00" x2="602.84" y2="402.00" stroke="#333" stroke-width="1"/>
<text transform="translate(600.54,404.20) rotate(-45)" font-size="11" font-style="italic" text-anchor="end" fill="#111" stroke="#111" stroke-width="0.12" y="7.80">hsfa3−1</text>
<line x1="634.28" y1="400.00" x2="634.28" y2="402.00" stroke="#333" stroke-width="1"/>
<text transform="translate(631.98,404.20) rotate(-45)" font-size="11" font-style="italic" text-anchor="end" fill="#111" stroke="#111" stroke-width="0.12" y="7.80">hsfa3−3</text>
<line x1="665.72" y1="400.00" x2="665.72" y2="402.00" stroke="#333" stroke-width="1"/>
<text transform="translate(669.72,404.20) rotate(-45)" font-size="11" font-style="italic" text-anchor="end" fill="#111" stroke="#111" stroke-width="0.12" y="7.80">hsfa2-1</text>
<text transform="translate(669.72,404.20) rotate(-45)" font-size="11" font-style="italic" text-anchor="end" fill="#111" stroke="#111" stroke-width="0.12" y="21.20">hsfa3-1</text>
<line x1="500.90" y1="416.70" x2="575.80" y2="416.70" stroke="#8c8c8c" stroke-width="1.6"/>
<text x="538.90" y="429.60" font-size="11" text-anchor="middle" fill="#111" stroke="#111" stroke-width="0.12" >A2OX</text>
<text x="-0.70" y="468.70" font-size="15" text-anchor="start" font-weight="bold" fill="#000" stroke="#000" stroke-width="0.12" >d</text>
<text transform="translate(12.00,564.00) rotate(-90)" font-size="11" text-anchor="middle" fill="#111" stroke="#111" stroke-width="0.12"><tspan font-weight="bold">2d maTT</tspan> / NHS growth rate</text>
<line x1="34.30" y1="526.40" x2="36.50" y2="526.40" stroke="#333" stroke-width="1"/>
<text x="32.90" y="528.90" font-size="11" text-anchor="end" fill="#111" stroke="#111" stroke-width="0.12" >2</text>
<line x1="34.30" y1="592.40" x2="36.50" y2="592.40" stroke="#333" stroke-width="1"/>
<text x="32.90" y="594.90" font-size="11" text-anchor="end" fill="#111" stroke="#111" stroke-width="0.12" >1</text>
<line x1="34.30" y1="658.10" x2="36.50" y2="658.10" stroke="#333" stroke-width="1"/>
<text x="32.90" y="660.60" font-size="11" text-anchor="end" fill="#111" stroke="#111" stroke-width="0.12" >0</text>
<text x="45.90" y="491.20" font-size="11" text-anchor="start" fill="#111" stroke="#111" stroke-width="0.12" >Anova, p = 6.9e−09</text>
<line x1="55.60" y1="638.00" x2="55.60" y2="641.50" stroke="#333" stroke-width="1"/>
<line x1="55.60" y1="649.70" x2="55.60" y2="651.10" stroke="#333" stroke-width="1"/>
<rect x="44.20" y="641.50" width="22.80" height="8.20" fill="#C3F16B" stroke="#222" stroke-width="1"/>
<line x1="44.20" y1="646.20" x2="67.00" y2="646.20" stroke="#222" stroke-width="1.3"/>
<line x1="87.80" y1="647.00" x2="87.80" y2="649.90" stroke="#333" stroke-width="1"/>
<line x1="87.80" y1="658.50" x2="87.80" y2="661.30" stroke="#333" stroke-width="1"/>
<rect x="76.40" y="649.90" width="22.80" height="8.60" fill="#FD7F50" stroke="#222" stroke-width="1"/>
<line x1="76.40" y1="656.40" x2="99.20" y2="656.40" stroke="#222" stroke-width="1.3"/>
<line x1="119.90" y1="654.60" x2="119.90" y2="655.50" stroke="#333" stroke-width="1"/>
<line x1="119.90" y1="658.50" x2="119.90" y2="659.00" stroke="#333" stroke-width="1"/>
<rect x="108.50" y="655.50" width="22.80" height="3.00" fill="#FC5A23" stroke="#222" stroke-width="1"/>
<line x1="108.50" y1="657.50" x2="131.30" y2="657.50" stroke="#222" stroke-width="1.3"/>
<line x1="152.00" y1="652.20" x2="152.00" y2="652.70" stroke="#333" stroke-width="1"/>
<line x1="152.00" y1="655.50" x2="152.00" y2="657.20" stroke="#333" stroke-width="1"/>
<rect x="140.60" y="652.70" width="22.80" height="2.80" fill="#C3F16B" stroke="#222" stroke-width="1"/>
<line x1="140.60" y1="654.00" x2="163.40" y2="654.00" stroke="#222" stroke-width="1.3"/>
<line x1="183.90" y1="581.90" x2="183.90" y2="590.40" stroke="#333" stroke-width="1"/>
<line x1="183.90" y1="629.40" x2="183.90" y2="633.10" stroke="#333" stroke-width="1"/>
<rect x="172.50" y="590.40" width="22.80" height="39.00" fill="#F3B21B" stroke="#222" stroke-width="1"/>
<line x1="172.50" y1="609.30" x2="195.30" y2="609.30" stroke="#222" stroke-width="1.3"/>
<line x1="216.20" y1="636.70" x2="216.20" y2="641.90" stroke="#333" stroke-width="1"/>
<line x1="216.20" y1="646.90" x2="216.20" y2="646.90" stroke="#333" stroke-width="1"/>
<rect x="204.80" y="641.90" width="22.80" height="5.00" fill="#F3B21B" stroke="#222" stroke-width="1"/>
<line x1="204.80" y1="644.40" x2="227.60" y2="644.40" stroke="#222" stroke-width="1.3"/>
<line x1="248.30" y1="640.10" x2="248.30" y2="644.00" stroke="#333" stroke-width="1"/>
<line x1="248.30" y1="649.70" x2="248.30" y2="651.30" stroke="#333" stroke-width="1"/>
<rect x="236.90" y="644.00" width="22.80" height="5.70" fill="#03B5E5" stroke="#222" stroke-width="1"/>
<line x1="236.90" y1="645.60" x2="259.70" y2="645.60" stroke="#222" stroke-width="1.3"/>
<line x1="280.40" y1="656.20" x2="280.40" y2="656.20" stroke="#333" stroke-width="1"/>
<line x1="280.40" y1="657.60" x2="280.40" y2="658.60" stroke="#333" stroke-width="1"/>
<rect x="269.00" y="656.20" width="22.80" height="1.40" fill="#88CDEB" stroke="#222" stroke-width="1"/>
<line x1="269.00" y1="657.00" x2="291.80" y2="657.00" stroke="#222" stroke-width="1.3"/>
<line x1="312.60" y1="656.20" x2="312.60" y2="658.60" stroke="#333" stroke-width="1"/>
<line x1="312.60" y1="664.20" x2="312.60" y2="667.10" stroke="#333" stroke-width="1"/>
<rect x="301.20" y="658.60" width="22.80" height="5.60" fill="#DEB2DE" stroke="#222" stroke-width="1"/>
<line x1="301.20" y1="661.30" x2="324.00" y2="661.30" stroke="#222" stroke-width="1.3"/>
<circle cx="51.20" cy="638.00" r="1.45" fill="#000"/>
<circle cx="54.70" cy="639.70" r="1.45" fill="#000"/>
<circle cx="59.40" cy="642.00" r="1.45" fill="#000"/>
<circle cx="55.90" cy="646.40" r="1.45" fill="#000"/>
<circle cx="56.80" cy="649.30" r="1.45" fill="#000"/>
<circle cx="58.20" cy="650.20" r="1.45" fill="#000"/>
<circle cx="55.00" cy="651.10" r="1.45" fill="#000"/>
<circle cx="53.50" cy="644.50" r="1.45" fill="#000"/>
<circle cx="81.70" cy="646.70" r="1.45" fill="#000"/>
<circle cx="91.00" cy="650.20" r="1.45" fill="#000"/>
<circle cx="93.60" cy="649.30" r="1.45" fill="#000"/>
<circle cx="89.70" cy="655.00" r="1.45" fill="#000"/>
<circle cx="89.70" cy="656.70" r="1.45" fill="#000"/>
<circle cx="83.10" cy="658.50" r="1.45" fill="#000"/>
<circle cx="92.20" cy="661.30" r="1.45" fill="#000"/>
<circle cx="86.50" cy="657.50" r="1.45" fill="#000"/>
<circle cx="115.50" cy="658.50" r="1.45" fill="#000"/>
<circle cx="119.50" cy="654.60" r="1.45" fill="#000"/>
<circle cx="123.40" cy="656.00" r="1.45" fill="#000"/>
<circle cx="125.10" cy="657.20" r="1.45" fill="#000"/>
<circle cx="118.00" cy="658.70" r="1.45" fill="#000"/>
<circle cx="121.00" cy="657.50" r="1.45" fill="#000"/>
<circle cx="117.00" cy="658.00" r="1.45" fill="#000"/>
<circle cx="124.00" cy="656.50" r="1.45" fill="#000"/>
<circle cx="150.80" cy="652.20" r="1.45" fill="#000"/>
<circle cx="151.60" cy="654.40" r="1.45" fill="#000"/>
<circle cx="149.60" cy="655.50" r="1.45" fill="#000"/>
<circle cx="151.10" cy="657.20" r="1.45" fill="#000"/>
<circle cx="157.90" cy="653.90" r="1.45" fill="#000"/>
<circle cx="153.00" cy="653.00" r="1.45" fill="#000"/>
<circle cx="150.00" cy="654.00" r="1.45" fill="#000"/>
<circle cx="152.00" cy="655.00" r="1.45" fill="#000"/>
<circle cx="184.30" cy="581.90" r="1.45" fill="#000"/>
<circle cx="179.50" cy="598.50" r="1.45" fill="#000"/>
<circle cx="178.70" cy="609.30" r="1.45" fill="#000"/>
<circle cx="182.80" cy="626.80" r="1.45" fill="#000"/>
<circle cx="179.00" cy="632.30" r="1.45" fill="#000"/>
<circle cx="183.50" cy="633.10" r="1.45" fill="#000"/>
<circle cx="183.30" cy="480.70" r="1.45" fill="#000"/>
<circle cx="213.40" cy="636.70" r="1.45" fill="#000"/>
<circle cx="214.40" cy="641.90" r="1.45" fill="#000"/>
<circle cx="216.10" cy="643.10" r="1.45" fill="#000"/>
<circle cx="218.90" cy="643.90" r="1.45" fill="#000"/>
<circle cx="219.70" cy="646.00" r="1.45" fill="#000"/>
<circle cx="211.70" cy="646.40" r="1.45" fill="#000"/>
<circle cx="215.00" cy="646.00" r="1.45" fill="#000"/>
<circle cx="247.90" cy="640.00" r="1.45" fill="#000"/>
<circle cx="249.30" cy="640.40" r="1.45" fill="#000"/>
<circle cx="241.70" cy="644.70" r="1.45" fill="#000"/>
<circle cx="248.40" cy="649.40" r="1.45" fill="#000"/>
<circle cx="250.80" cy="649.90" r="1.45" fill="#000"/>
<circle cx="253.10" cy="651.30" r="1.45" fill="#000"/>
<circle cx="247.00" cy="650.00" r="1.45" fill="#000"/>
<circle cx="252.00" cy="650.50" r="1.45" fill="#000"/>
<circle cx="276.10" cy="656.20" r="1.45" fill="#000"/>
<circle cx="280.40" cy="658.60" r="1.45" fill="#000"/>
<circle cx="285.70" cy="656.20" r="1.45" fill="#000"/>
<circle cx="278.00" cy="657.00" r="1.45" fill="#000"/>
<circle cx="282.00" cy="657.00" r="1.45" fill="#000"/>
<circle cx="284.00" cy="657.00" r="1.45" fill="#000"/>
<circle cx="276.00" cy="657.50" r="1.45" fill="#000"/>
<circle cx="281.00" cy="656.50" r="1.45" fill="#000"/>
<circle cx="306.90" cy="656.50" r="1.45" fill="#000"/>
<circle cx="315.70" cy="656.20" r="1.45" fill="#000"/>
<circle cx="311.70" cy="660.20" r="1.45" fill="#000"/>
<circle cx="316.50" cy="661.80" r="1.45" fill="#000"/>
<circle cx="317.30" cy="665.00" r="1.45" fill="#000"/>
<circle cx="307.70" cy="667.10" r="1.45" fill="#000"/>
<circle cx="317.80" cy="666.60" r="1.45" fill="#000"/>
<circle cx="310.00" cy="662.00" r="1.45" fill="#000"/>
<text x="87.00" y="624.72" font-size="11" text-anchor="middle" fill="#111" stroke="#111" stroke-width="0.12" >**</text>
<text x="118.40" y="624.72" font-size="11" text-anchor="middle" fill="#111" stroke="#111" stroke-width="0.12" >***</text>
<text x="151.50" y="623.82" font-size="11" text-anchor="middle" fill="#111" stroke="#111" stroke-width="0.12" >**</text>
<text x="183.70" y="558.52" font-size="11" text-anchor="middle" fill="#111" stroke="#111" stroke-width="0.12" >*</text>
<text x="215.00" y="624.80" font-size="11" text-anchor="middle" fill="#111" stroke="#111" stroke-width="0.12" >ns</text>
<text x="246.90" y="624.90" font-size="11" text-anchor="middle" fill="#111" stroke="#111" stroke-width="0.12" >ns</text>
<text x="278.80" y="624.72" font-size="11" text-anchor="middle" fill="#111" stroke="#111" stroke-width="0.12" >***</text>
<text x="311.30" y="624.72" font-size="11" text-anchor="middle" fill="#111" stroke="#111" stroke-width="0.12" >***</text>
<text x="54.00" y="675.10" font-size="11.2" text-anchor="middle" fill="#999" stroke="#999" stroke-width="0.12" >8</text>
<text x="86.38" y="675.10" font-size="11.2" text-anchor="middle" fill="#999" stroke="#999" stroke-width="0.12" >8</text>
<text x="118.75" y="675.10" font-size="11.2" text-anchor="middle" fill="#999" stroke="#999" stroke-width="0.12" >8</text>
<text x="151.12" y="675.10" font-size="11.2" text-anchor="middle" fill="#999" stroke="#999" stroke-width="0.12" >8</text>
<text x="183.50" y="675.10" font-size="11.2" text-anchor="middle" fill="#999" stroke="#999" stroke-width="0.12" >8</text>
<text x="215.88" y="675.10" font-size="11.2" text-anchor="middle" fill="#999" stroke="#999" stroke-width="0.12" >7</text>
<text x="248.25" y="675.10" font-size="11.2" text-anchor="middle" fill="#999" stroke="#999" stroke-width="0.12" >8</text>
<text x="280.62" y="675.10" font-size="11.2" text-anchor="middle" fill="#999" stroke="#999" stroke-width="0.12" >8</text>
<text x="313.00" y="675.10" font-size="11.2" text-anchor="middle" fill="#999" stroke="#999" stroke-width="0.12" >8</text>
<line x1="36.50" y1="467.90" x2="36.50" y2="677.00" stroke="#222" stroke-width="1"/>
<line x1="36.00" y1="676.50" x2="331.80" y2="676.50" stroke="#222" stroke-width="1"/>
<line x1="55.30" y1="676.00" x2="55.30" y2="678.00" stroke="#333" stroke-width="1"/>
<text x="54.00" y="691.80" font-size="11" text-anchor="middle" fill="#111" stroke="#111" stroke-width="0.12" >WT</text>
<line x1="87.46" y1="676.00" x2="87.46" y2="678.00" stroke="#333" stroke-width="1"/>
<text transform="translate(86.06,681.00) rotate(-45)" font-size="11" font-style="italic" text-anchor="end" fill="#111" stroke="#111" stroke-width="0.12" y="7.80">hsfa2−1</text>
<line x1="119.62" y1="676.00" x2="119.62" y2="678.00" stroke="#333" stroke-width="1"/>
<text transform="translate(118.22,681.00) rotate(-45)" font-size="11" font-style="italic" text-anchor="end" fill="#111" stroke="#111" stroke-width="0.12" y="7.80">hsfa2−3</text>
<line x1="151.78" y1="676.00" x2="151.78" y2="678.00" stroke="#333" stroke-width="1"/>
<text x="148.85" y="690.10" font-size="11" text-anchor="middle" fill="#111" stroke="#111" stroke-width="0.12" >#5</text>
<line x1="183.94" y1="676.00" x2="183.94" y2="678.00" stroke="#333" stroke-width="1"/>
<text x="179.90" y="690.10" font-size="11" text-anchor="middle" fill="#111" stroke="#111" stroke-width="0.12" >#7</text>
<line x1="216.10" y1="676.00" x2="216.10" y2="678.00" stroke="#333" stroke-width="1"/>
<text x="211.80" y="690.10" font-size="11" text-anchor="middle" fill="#111" stroke="#111" stroke-width="0.12" >#2</text>
<line x1="248.26" y1="676.00" x2="248.26" y2="678.00" stroke="#333" stroke-width="1"/>
<text transform="translate(246.86,681.00) rotate(-45)" font-size="11" font-style="italic" text-anchor="end" fill="#111" stroke="#111" stroke-width="0.12" y="7.80">hsfa3−1</text>
<line x1="280.42" y1="676.00" x2="280.42" y2="678.00" stroke="#333" stroke-width="1"/>
<text transform="translate(279.02,681.00) rotate(-45)" font-size="11" font-style="italic" text-anchor="end" fill="#111" stroke="#111" stroke-width="0.12" y="7.80">hsfa3−3</text>
<line x1="312.58" y1="676.00" x2="312.58" y2="678.00" stroke="#333" stroke-width="1"/>
<text transform="translate(317.48,681.00) rotate(-45)" font-size="11" font-style="italic" text-anchor="end" fill="#111" stroke="#111" stroke-width="0.12" y="7.80">hsfa2-1</text>
<text transform="translate(317.48,681.00) rotate(-45)" font-size="11" font-style="italic" text-anchor="end" fill="#111" stroke="#111" stroke-width="0.12" y="21.20">hsfa3-1</text>
<line x1="143.10" y1="692.90" x2="218.00" y2="692.90" stroke="#8c8c8c" stroke-width="1.6"/>
<text x="180.75" y="706.00" font-size="11" text-anchor="middle" fill="#111" stroke="#111" stroke-width="0.12" >A2OX</text>
<text x="350.50" y="468.00" font-size="15" text-anchor="start" font-weight="bold" fill="#000" stroke="#000" stroke-width="0.12" >e</text>
<text transform="translate(367.50,568.20) rotate(-90)" font-size="11" text-anchor="middle" fill="#111" stroke="#111" stroke-width="0.12"><tspan font-weight="bold">3d maTT</tspan> / NHS growth rate</text>
<line x1="393.10" y1="493.40" x2="395.30" y2="493.40" stroke="#333" stroke-width="1"/>
<text x="380.60" y="495.90" font-size="11" text-anchor="middle" fill="#111" stroke="#111" stroke-width="0.12" >0.2</text>
<line x1="393.10" y1="535.30" x2="395.30" y2="535.30" stroke="#333" stroke-width="1"/>
<text x="380.60" y="537.80" font-size="11" text-anchor="middle" fill="#111" stroke="#111" stroke-width="0.12" >0.1</text>
<line x1="393.10" y1="578.20" x2="395.30" y2="578.20" stroke="#333" stroke-width="1"/>
<text x="380.60" y="580.70" font-size="11" text-anchor="middle" fill="#111" stroke="#111" stroke-width="0.12" >0.0</text>
<line x1="393.10" y1="620.50" x2="395.30" y2="620.50" stroke="#333" stroke-width="1"/>
<text x="380.60" y="623.00" font-size="11" text-anchor="middle" fill="#111" stroke="#111" stroke-width="0.12" >−0.1</text>
<line x1="393.10" y1="662.50" x2="395.30" y2="662.50" stroke="#333" stroke-width="1"/>
<text x="380.60" y="665.00" font-size="11" text-anchor="middle" fill="#111" stroke="#111" stroke-width="0.12" >−0.2</text>
<text x="403.70" y="491.20" font-size="11" text-anchor="start" fill="#111" stroke="#111" stroke-width="0.12" >Anova, p = 1.9e−06</text>
<line x1="413.60" y1="552.80" x2="413.60" y2="561.30" stroke="#333" stroke-width="1"/>
<line x1="413.60" y1="572.10" x2="413.60" y2="575.50" stroke="#333" stroke-width="1"/>
<rect x="402.50" y="561.30" width="22.20" height="10.80" fill="#C3F16B" stroke="#222" stroke-width="1"/>
<line x1="402.50" y1="562.60" x2="424.70" y2="562.60" stroke="#222" stroke-width="1.3"/>
<line x1="444.70" y1="546.30" x2="444.70" y2="550.20" stroke="#333" stroke-width="1"/>
<line x1="444.70" y1="558.00" x2="444.70" y2="561.60" stroke="#333" stroke-width="1"/>
<rect x="433.60" y="550.20" width="22.20" height="7.80" fill="#FD7F50" stroke="#222" stroke-width="1"/>
<line x1="433.60" y1="553.60" x2="455.80" y2="553.60" stroke="#222" stroke-width="1.3"/>
<line x1="475.70" y1="558.70" x2="475.70" y2="570.10" stroke="#333" stroke-width="1"/>
<line x1="475.70" y1="595.50" x2="475.70" y2="604.70" stroke="#333" stroke-width="1"/>
<rect x="464.60" y="570.10" width="22.20" height="25.40" fill="#FC5A23" stroke="#222" stroke-width="1"/>
<line x1="464.60" y1="580.10" x2="486.80" y2="580.10" stroke="#222" stroke-width="1.3"/>
<line x1="506.60" y1="558.80" x2="506.60" y2="565.60" stroke="#333" stroke-width="1"/>
<line x1="506.60" y1="577.40" x2="506.60" y2="593.80" stroke="#333" stroke-width="1"/>
<rect x="495.50" y="565.60" width="22.20" height="11.80" fill="#C3F16B" stroke="#222" stroke-width="1"/>
<line x1="495.50" y1="572.50" x2="517.70" y2="572.50" stroke="#222" stroke-width="1.3"/>
<line x1="537.60" y1="520.70" x2="537.60" y2="532.40" stroke="#333" stroke-width="1"/>
<line x1="537.60" y1="554.30" x2="537.60" y2="556.20" stroke="#333" stroke-width="1"/>
<rect x="526.50" y="532.40" width="22.20" height="21.90" fill="#F3B21B" stroke="#222" stroke-width="1"/>
<line x1="526.50" y1="549.60" x2="548.70" y2="549.60" stroke="#222" stroke-width="1.3"/>
<line x1="568.70" y1="481.90" x2="568.70" y2="497.20" stroke="#333" stroke-width="1"/>
<line x1="568.70" y1="527.40" x2="568.70" y2="547.20" stroke="#333" stroke-width="1"/>
<rect x="557.60" y="497.20" width="22.20" height="30.20" fill="#F3B21B" stroke="#222" stroke-width="1"/>
<line x1="557.60" y1="512.60" x2="579.80" y2="512.60" stroke="#222" stroke-width="1.3"/>
<line x1="599.90" y1="526.00" x2="599.90" y2="545.00" stroke="#333" stroke-width="1"/>
<line x1="599.90" y1="574.10" x2="599.90" y2="577.90" stroke="#333" stroke-width="1"/>
<rect x="588.80" y="545.00" width="22.20" height="29.10" fill="#03B5E5" stroke="#222" stroke-width="1"/>
<line x1="588.80" y1="562.40" x2="611.00" y2="562.40" stroke="#222" stroke-width="1.3"/>
<line x1="631.00" y1="549.60" x2="631.00" y2="557.00" stroke="#333" stroke-width="1"/>
<line x1="631.00" y1="572.00" x2="631.00" y2="576.00" stroke="#333" stroke-width="1"/>
<rect x="619.90" y="557.00" width="22.20" height="15.00" fill="#88CDEB" stroke="#222" stroke-width="1"/>
<line x1="619.90" y1="564.30" x2="642.10" y2="564.30" stroke="#222" stroke-width="1.3"/>
<line x1="662.00" y1="569.10" x2="662.00" y2="574.10" stroke="#333" stroke-width="1"/>
<line x1="662.00" y1="580.70" x2="662.00" y2="583.60" stroke="#333" stroke-width="1"/>
<rect x="650.90" y="574.10" width="22.20" height="6.60" fill="#DEB2DE" stroke="#222" stroke-width="1"/>
<line x1="650.90" y1="577.40" x2="673.10" y2="577.40" stroke="#222" stroke-width="1.3"/>
<circle cx="413.70" cy="552.80" r="1.45" fill="#000"/>
<circle cx="412.50" cy="557.20" r="1.45" fill="#000"/>
<circle cx="409.60" cy="563.10" r="1.45" fill="#000"/>
<circle cx="414.00" cy="562.60" r="1.45" fill="#000"/>
<circle cx="417.20" cy="563.50" r="1.45" fill="#000"/>
<circle cx="415.90" cy="571.80" r="1.45" fill="#000"/>
<circle cx="414.70" cy="572.80" r="1.45" fill="#000"/>
<circle cx="412.80" cy="575.50" r="1.45" fill="#000"/>
<circle cx="449.30" cy="546.00" r="1.45" fill="#000"/>
<circle cx="446.80" cy="549.60" r="1.45" fill="#000"/>
<circle cx="448.30" cy="550.70" r="1.45" fill="#000"/>
<circle cx="439.10" cy="553.90" r="1.45" fill="#000"/>
<circle cx="445.80" cy="553.90" r="1.45" fill="#000"/>
<circle cx="450.50" cy="561.90" r="1.45" fill="#000"/>
<circle cx="439.50" cy="586.00" r="1.45" fill="#000"/>
<circle cx="474.60" cy="558.70" r="1.45" fill="#000"/>
<circle cx="475.70" cy="574.00" r="1.45" fill="#000"/>
<circle cx="475.30" cy="581.00" r="1.45" fill="#000"/>
<circle cx="478.90" cy="580.10" r="1.45" fill="#000"/>
<circle cx="481.90" cy="592.00" r="1.45" fill="#000"/>
<circle cx="471.60" cy="604.40" r="1.45" fill="#000"/>
<circle cx="480.30" cy="494.50" r="1.45" fill="#000"/>
<circle cx="478.60" cy="667.10" r="1.45" fill="#000"/>
<circle cx="505.80" cy="558.80" r="1.45" fill="#000"/>
<circle cx="512.20" cy="558.80" r="1.45" fill="#000"/>
<circle cx="506.80" cy="567.50" r="1.45" fill="#000"/>
<circle cx="503.00" cy="570.80" r="1.45" fill="#000"/>
<circle cx="505.90" cy="575.40" r="1.45" fill="#000"/>
<circle cx="505.90" cy="581.70" r="1.45" fill="#000"/>
<circle cx="504.50" cy="594.50" r="1.45" fill="#000"/>
<circle cx="506.20" cy="573.50" r="1.45" fill="#000"/>
<circle cx="537.00" cy="520.70" r="1.45" fill="#000"/>
<circle cx="532.60" cy="528.00" r="1.45" fill="#000"/>
<circle cx="538.20" cy="545.00" r="1.45" fill="#000"/>
<circle cx="533.50" cy="552.80" r="1.45" fill="#000"/>
<circle cx="532.80" cy="554.50" r="1.45" fill="#000"/>
<circle cx="537.40" cy="556.20" r="1.45" fill="#000"/>
<circle cx="564.10" cy="481.20" r="1.45" fill="#000"/>
<circle cx="567.70" cy="484.50" r="1.45" fill="#000"/>
<circle cx="566.30" cy="501.20" r="1.45" fill="#000"/>
<circle cx="567.00" cy="504.80" r="1.45" fill="#000"/>
<circle cx="571.10" cy="519.90" r="1.45" fill="#000"/>
<circle cx="566.00" cy="523.20" r="1.45" fill="#000"/>
<circle cx="572.40" cy="540.00" r="1.45" fill="#000"/>
<circle cx="571.80" cy="547.20" r="1.45" fill="#000"/>
<circle cx="601.00" cy="525.90" r="1.45" fill="#000"/>
<circle cx="598.90" cy="530.30" r="1.45" fill="#000"/>
<circle cx="604.70" cy="550.00" r="1.45" fill="#000"/>
<circle cx="603.20" cy="559.90" r="1.45" fill="#000"/>
<circle cx="602.20" cy="564.70" r="1.45" fill="#000"/>
<circle cx="594.10" cy="572.60" r="1.45" fill="#000"/>
<circle cx="599.20" cy="577.90" r="1.45" fill="#000"/>
<circle cx="605.00" cy="577.90" r="1.45" fill="#000"/>
<circle cx="631.40" cy="521.10" r="1.45" fill="#000"/>
<circle cx="636.10" cy="549.50" r="1.45" fill="#000"/>
<circle cx="632.20" cy="559.60" r="1.45" fill="#000"/>
<circle cx="624.90" cy="564.60" r="1.45" fill="#000"/>
<circle cx="635.80" cy="564.60" r="1.45" fill="#000"/>
<circle cx="629.20" cy="571.20" r="1.45" fill="#000"/>
<circle cx="627.00" cy="574.50" r="1.45" fill="#000"/>
<circle cx="630.70" cy="576.00" r="1.45" fill="#000"/>
<circle cx="665.60" cy="568.70" r="1.45" fill="#000"/>
<circle cx="666.80" cy="571.90" r="1.45" fill="#000"/>
<circle cx="660.50" cy="576.40" r="1.45" fill="#000"/>
<circle cx="666.30" cy="577.40" r="1.45" fill="#000"/>
<circle cx="657.60" cy="579.60" r="1.45" fill="#000"/>
<circle cx="656.10" cy="584.00" r="1.45" fill="#000"/>
<circle cx="667.00" cy="583.60" r="1.45" fill="#000"/>
<circle cx="662.00" cy="578.00" r="1.45" fill="#000"/>
<text x="443.30" y="535.80" font-size="11" text-anchor="middle" fill="#111" stroke="#111" stroke-width="0.12" >ns</text>
<text x="474.30" y="536.00" font-size="11" text-anchor="middle" fill="#111" stroke="#111" stroke-width="0.12" >ns</text>
<text x="505.60" y="536.00" font-size="11" text-anchor="middle" fill="#111" stroke="#111" stroke-width="0.12" >ns</text>
<text x="537.00" y="513.92" font-size="11" text-anchor="middle" fill="#111" stroke="#111" stroke-width="0.12" >*</text>
<text x="567.40" y="481.02" font-size="11" text-anchor="middle" fill="#111" stroke="#111" stroke-width="0.12" >***</text>
<text x="598.50" y="514.60" font-size="11" text-anchor="middle" fill="#111" stroke="#111" stroke-width="0.12" >ns</text>
<text x="629.40" y="514.60" font-size="11" text-anchor="middle" fill="#111" stroke="#111" stroke-width="0.12" >ns</text>
<text x="661.10" y="535.22" font-size="11" text-anchor="middle" fill="#111" stroke="#111" stroke-width="0.12" >**</text>
<text x="412.50" y="674.60" font-size="11.2" text-anchor="middle" fill="#999" stroke="#999" stroke-width="0.12" >8</text>
<text x="443.80" y="674.60" font-size="11.2" text-anchor="middle" fill="#999" stroke="#999" stroke-width="0.12" >7</text>
<text x="475.10" y="674.60" font-size="11.2" text-anchor="middle" fill="#999" stroke="#999" stroke-width="0.12" >8</text>
<text x="506.40" y="674.60" font-size="11.2" text-anchor="middle" fill="#999" stroke="#999" stroke-width="0.12" >8</text>
<text x="537.70" y="674.60" font-size="11.2" text-anchor="middle" fill="#999" stroke="#999" stroke-width="0.12" >6</text>
<text x="569.00" y="674.60" font-size="11.2" text-anchor="middle" fill="#999" stroke="#999" stroke-width="0.12" >8</text>
<text x="600.30" y="674.60" font-size="11.2" text-anchor="middle" fill="#999" stroke="#999" stroke-width="0.12" >8</text>
<text x="631.60" y="674.60" font-size="11.2" text-anchor="middle" fill="#999" stroke="#999" stroke-width="0.12" >8</text>
<text x="662.90" y="674.60" font-size="11.2" text-anchor="middle" fill="#999" stroke="#999" stroke-width="0.12" >8</text>
<line x1="395.30" y1="472.40" x2="395.30" y2="677.00" stroke="#999" stroke-width="1.8"/>
<line x1="395.00" y1="676.50" x2="680.60" y2="676.50" stroke="#222" stroke-width="1"/>
<line x1="413.20" y1="676.40" x2="413.20" y2="678.40" stroke="#333" stroke-width="1"/>
<text x="411.65" y="692.00" font-size="11" text-anchor="middle" fill="#111" stroke="#111" stroke-width="0.12" >WT</text>
<line x1="444.25" y1="676.40" x2="444.25" y2="678.40" stroke="#333" stroke-width="1"/>
<text transform="translate(443.45,681.40) rotate(-45)" font-size="11" font-style="italic" text-anchor="end" fill="#111" stroke="#111" stroke-width="0.12" y="7.80">hsfa2−1</text>
<line x1="475.30" y1="676.40" x2="475.30" y2="678.40" stroke="#333" stroke-width="1"/>
<text transform="translate(474.50,681.40) rotate(-45)" font-size="11" font-style="italic" text-anchor="end" fill="#111" stroke="#111" stroke-width="0.12" y="7.80">hsfa2−3</text>
<line x1="506.35" y1="676.40" x2="506.35" y2="678.40" stroke="#333" stroke-width="1"/>
<text x="506.40" y="690.20" font-size="11" text-anchor="middle" fill="#111" stroke="#111" stroke-width="0.12" >#5</text>
<line x1="537.40" y1="676.40" x2="537.40" y2="678.40" stroke="#333" stroke-width="1"/>
<text x="537.25" y="690.20" font-size="11" text-anchor="middle" fill="#111" stroke="#111" stroke-width="0.12" >#7</text>
<line x1="568.45" y1="676.40" x2="568.45" y2="678.40" stroke="#333" stroke-width="1"/>
<text x="569.40" y="690.20" font-size="11" text-anchor="middle" fill="#111" stroke="#111" stroke-width="0.12" >#2</text>
<line x1="599.50" y1="676.40" x2="599.50" y2="678.40" stroke="#333" stroke-width="1"/>
<text transform="translate(598.70,681.40) rotate(-45)" font-size="11" font-style="italic" text-anchor="end" fill="#111" stroke="#111" stroke-width="0.12" y="7.80">hsfa3−1</text>
<line x1="630.55" y1="676.40" x2="630.55" y2="678.40" stroke="#333" stroke-width="1"/>
<text transform="translate(629.75,681.40) rotate(-45)" font-size="11" font-style="italic" text-anchor="end" fill="#111" stroke="#111" stroke-width="0.12" y="7.80">hsfa3−3</text>
<line x1="661.60" y1="676.40" x2="661.60" y2="678.40" stroke="#333" stroke-width="1"/>
<text transform="translate(667.10,681.40) rotate(-45)" font-size="11" font-style="italic" text-anchor="end" fill="#111" stroke="#111" stroke-width="0.12" y="7.80">hsfa2-1</text>
<text transform="translate(667.10,681.40) rotate(-45)" font-size="11" font-style="italic" text-anchor="end" fill="#111" stroke="#111" stroke-width="0.12" y="21.20">hsfa3-1</text>
<line x1="500.90" y1="693.10" x2="575.80" y2="693.10" stroke="#333" stroke-width="1.0"/>
<text x="538.90" y="706.00" font-size="11" text-anchor="middle" fill="#111" stroke="#111" stroke-width="0.12" >A2OX</text>
</svg>
</body></html>
